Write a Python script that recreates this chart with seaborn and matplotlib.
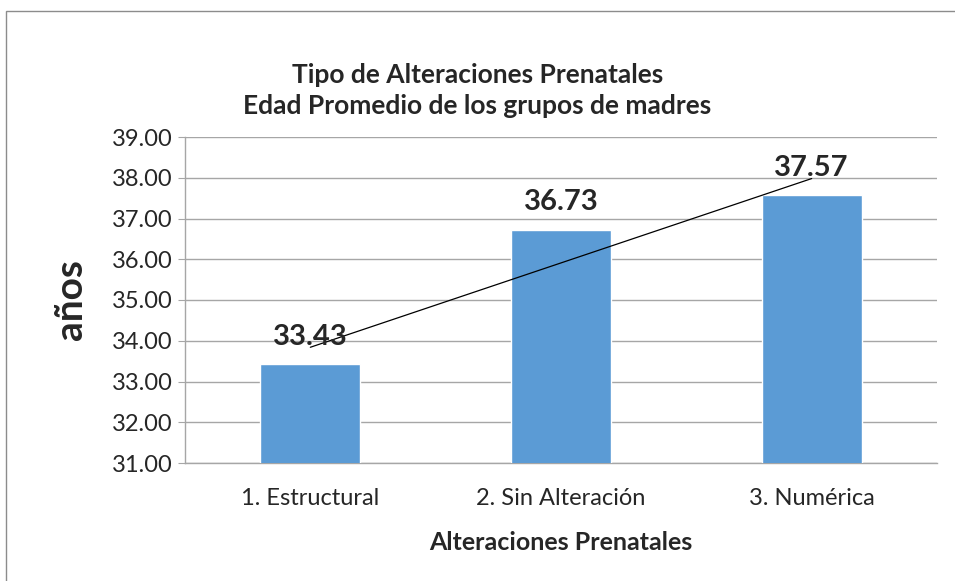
import matplotlib
matplotlib.use('Agg')
import matplotlib.pyplot as plt
import numpy as np
import pandas as pd
import seaborn as sns
from matplotlib.patches import Rectangle

CATEGORIES = ['1. Estructural', '2. Sin Alteración', '3. Numérica']
EDAD = [33.43, 36.73, 37.57]
Y_TICKS = [31, 32, 33, 34, 35, 36, 37, 38, 39]

BAR_COLOR = '#5B9BD5'
GRID_COLOR = '#A6A6A6'

sns.set_style('white')
plt.rcParams['font.family'] = ['Lato', 'DejaVu Sans']

df = pd.DataFrame({'cat': CATEGORIES, 'val': EDAD})

fig = plt.figure(figsize=(9.55, 5.81), dpi=100)
ax = fig.add_axes([185 / 955, 1 - 463 / 581, (937 - 185) / 955, (463 - 137) / 581])

sns.barplot(data=df, x='cat', y='val', color=BAR_COLOR, width=0.4,
            saturation=1, ax=ax, zorder=3)

# linear trend line through the bars
xs = np.arange(len(EDAD))
coef = np.polyfit(xs, EDAD, 1)
ax.plot(xs, np.polyval(coef, xs), color='black', lw=0.9, zorder=5)

for i, v in enumerate(EDAD):
    ax.annotate(f'{v:.2f}', (i, v), xytext=(0, 14), textcoords='offset points',
                ha='center', va='baseline', fontsize=21, fontweight='bold', zorder=6)

ax.set_ylim(31, 39)
ax.set_yticks(Y_TICKS)
ax.set_yticklabels([f'{t:.2f}' for t in Y_TICKS], fontsize=17)
ax.set_xlim(-0.5, 2.5)
ax.tick_params(axis='x', labelsize=17, length=0, pad=18)
ax.tick_params(axis='y', length=5, color=GRID_COLOR, left=True, pad=4)
ax.yaxis.grid(True, color=GRID_COLOR, lw=1, zorder=0)
ax.set_axisbelow(True)
for s in ['top', 'right']:
    ax.spines[s].set_visible(False)
for s in ['left', 'bottom']:
    ax.spines[s].set_color(GRID_COLOR)
    ax.spines[s].set_linewidth(1)

ax.set_xlabel('Alteraciones Prenatales', fontsize=18, fontweight='bold', va='center')
ax.xaxis.set_label_coords(0.5, (463 - 542) / 326)
ax.set_ylabel('años', fontsize=28, fontweight='bold', va='center')
ax.yaxis.set_label_coords((70 - 185) / 752, 0.5)

fig.text(0.5, 1 - 75 / 581, 'Tipo de Alteraciones Prenatales', ha='center', va='center',
         fontsize=19, fontweight='bold')
fig.text(0.5, 1 - 106 / 581, 'Edad Promedio de los grupos de madres', ha='center',
         va='center', fontsize=19, fontweight='bold')

# chart frame (runs off the right and bottom edges)
fig.patches.append(Rectangle((6 / 955, -0.05), 1.0, 1.05 - 11 / 581,
                             transform=fig.transFigure, fill=False,
                             edgecolor='#8C8C8C', lw=1))

fig.savefig('out.png', dpi=100)
